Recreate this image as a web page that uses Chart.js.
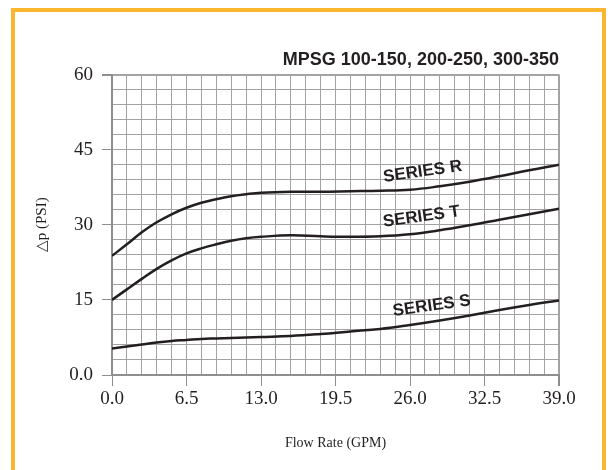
<!DOCTYPE html>
<html>
<head>
<meta charset="utf-8">
<script src="https://cdn.jsdelivr.net/npm/chart.js@4/dist/chart.umd.min.js"></script>
<style>
  body { margin: 0; background: #fff; }
  #frame {
    position: absolute; left: 11px; top: 8px;
    width: 587px; height: 520px;
    border: 4px solid #fbb62f;
  }
  #pressure-chart { position: absolute; left: 0; top: 0; }
</style>
</head>
<body>
<div id="frame"></div>
<canvas id="pressure-chart" width="608" height="470"></canvas>
<script>
// flow rate (GPM) and pressure drop (PSI) for each series
var flow    = [0, 1.3, 2.6, 3.9, 5.2, 6.5, 7.8, 9.1, 10.4, 11.7, 13, 15.6, 18.2, 20.8, 23.4, 26, 28.6, 31.2, 33.8, 36.4, 39];
var seriesR = [23.8, 26.1, 28.5, 30.5, 32.1, 33.4, 34.4, 35.1, 35.7, 36.1, 36.4, 36.6, 36.6, 36.7, 36.8, 37.0, 37.7, 38.6, 39.7, 40.9, 42.0];
var seriesT = [15.0, 17.1, 19.2, 21.2, 22.9, 24.3, 25.3, 26.1, 26.8, 27.3, 27.6, 27.9, 27.7, 27.6, 27.7, 28.1, 28.9, 29.9, 31.0, 32.1, 33.2];
var seriesS = [5.3, 5.7, 6.1, 6.5, 6.8, 7.0, 7.2, 7.3, 7.4, 7.5, 7.6, 7.8, 8.2, 8.7, 9.2, 10.0, 10.9, 11.9, 13.0, 14.0, 14.9];
var seriesNames = ["SERIES R", "SERIES T", "SERIES S"];
var xLabelTicks = [0, 6.5, 13, 19.5, 26, 32.5, 39];
var yLabelTicks = [0, 15, 30, 45, 60];

var serif = "'Liberation Serif', 'Times New Roman', serif";
var sans = "'Liberation Sans', Arial, sans-serif";
var lineColor = '#231f20';
var gridColor = '#a3a3a3';
var edgeColor = '#8e8e8e';

function toPoints(ys) {
  return flow.map(function (x, i) { return { x: x, y: ys[i] }; });
}

function isLabelled(list, v) {
  return list.some(function (t) { return Math.abs(t - v) < 1e-6; });
}

// text set along each curve
var curveLabels = {
  id: 'curveLabels',
  afterDatasetsDraw: function (chart) {
    var ctx = chart.ctx;
    var xs = chart.scales.x, ys = chart.scales.y;
    var spots = [[27.1, 40.6], [27.0, 31.6], [27.9, 13.8]];
    ctx.save();
    ctx.font = 'bold 17px ' + sans;
    ctx.fillStyle = lineColor;
    ctx.textAlign = 'center';
    ctx.textBaseline = 'middle';
    seriesNames.forEach(function (name, i) {
      ctx.save();
      ctx.translate(xs.getPixelForValue(spots[i][0]), ys.getPixelForValue(spots[i][1]));
      ctx.rotate(-8 * Math.PI / 180);
      ctx.fillText(name, 0, 0);
      ctx.restore();
    });
    ctx.restore();
  }
};

var ctx = document.getElementById('pressure-chart');
var chart = new Chart(ctx, {
  type: 'line',
  data: {
    datasets: [seriesR, seriesT, seriesS].map(function (ys, i) {
      return {
        label: seriesNames[i],
        data: toPoints(ys),
        borderColor: lineColor,
        borderWidth: 2.5,
        pointRadius: 0,
        fill: false,
        tension: 0.4
      };
    })
  },
  options: {
    responsive: false,
    animation: false,
    events: [],
    layout: { padding: { left: 33, right: 49, top: 30, bottom: 18 } },
    plugins: {
      legend: { display: false },
      tooltip: { enabled: false },
      title: {
        display: true,
        text: 'MPSG 100-150, 200-250, 300-350',
        align: 'end',
        color: lineColor,
        font: { family: sans, size: 18, weight: 'bold' },
        padding: { top: 19, bottom: 4 }
      }
    },
    scales: {
      x: {
        type: 'linear',
        min: 0,
        max: 39,
        afterFit: function (scale) { scale.height = 77; },
        ticks: {
          stepSize: 1.3,
          autoSkip: false,
          maxRotation: 0,
          padding: 2,
          color: lineColor,
          font: { family: serif, size: 19 },
          callback: function (v) { return isLabelled(xLabelTicks, v) ? v.toFixed(1) : ''; }
        },
        grid: {
          color: gridColor,
          lineWidth: function (c) { return c.tick && Math.abs(c.tick.value - 39) < 1e-6 ? 2 : 1; },
          tickLength: 11,
          tickColor: function (c) { return c.tick && isLabelled(xLabelTicks, c.tick.value) ? edgeColor : 'rgba(0,0,0,0)'; }
        },
        border: { color: edgeColor, width: 2 },
        title: {
          display: true,
          text: 'Flow Rate (GPM)',
          color: lineColor,
          font: { family: serif, size: 14 },
          padding: { top: 0, bottom: 0 }
        }
      },
      y: {
        min: 0,
        max: 60,
        afterFit: function (scale) { scale.width = 79; },
        ticks: {
          stepSize: 3,
          autoSkip: false,
          padding: 9,
          color: lineColor,
          font: { family: serif, size: 19 },
          callback: function (v) {
            if (!isLabelled(yLabelTicks, v)) return '';
            return v === 0 ? '0.0' : String(v);
          }
        },
        grid: {
          color: gridColor,
          lineWidth: function (c) { return c.tick && c.tick.value === 60 ? 2 : 1; },
          tickLength: 10,
          tickColor: function (c) { return c.tick && isLabelled(yLabelTicks, c.tick.value) ? edgeColor : 'rgba(0,0,0,0)'; }
        },
        border: { color: edgeColor, width: 2 },
        title: {
          display: true,
          text: '△p (PSI)',
          color: lineColor,
          font: { family: serif, size: 15 },
          padding: { top: 0, bottom: 0 }
        }
      }
    }
  },
  plugins: [curveLabels]
});
</script>
</body>
</html>
